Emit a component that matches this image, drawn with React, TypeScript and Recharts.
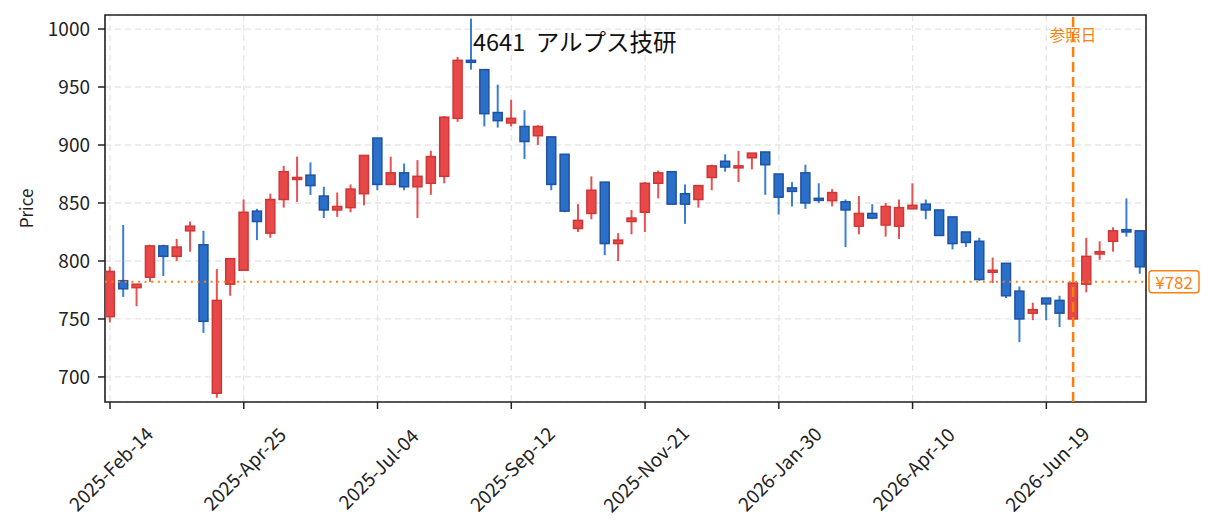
import { ComposedChart, Bar, XAxis, YAxis, CartesianGrid, ReferenceLine, ReferenceArea } from "recharts";

// weekly candles, 2025-02-14 .. 2026-08-07
const opens = [
    752, 783, 777, 786, 813, 804, 826, 814, 686, 780, 792, 843, 824, 853, 871, 874, 856, 844, 846, 858,
    906, 866, 876, 864, 867, 873, 923, 973, 965, 928, 919, 916, 908, 907, 892, 828, 841, 868, 815, 834,
    842, 867, 877, 858, 853, 872, 886, 881, 889, 894, 875, 863, 876, 854, 852, 851, 830, 841, 831, 830,
    845, 849, 844, 838, 825, 817, 791, 798, 774, 755, 768, 766, 750, 780, 806, 817, 827, 826,
];
const highs = [
    795, 831, 780, 814, 814, 819, 834, 826, 793, 802, 853, 845, 858, 882, 890, 885, 864, 859, 866, 891,
    906, 890, 884, 887, 895, 925, 976, 1009, 965, 952, 939, 930, 917, 907, 892, 849, 873, 868, 824, 844,
    868, 878, 877, 866, 865, 883, 892, 895, 893, 894, 875, 868, 883, 867, 862, 853, 856, 849, 850, 853,
    867, 853, 844, 838, 825, 820, 803, 798, 778, 764, 768, 770, 781, 820, 817, 829, 854, 826,
];
const lows = [
    747, 769, 761, 782, 787, 800, 808, 738, 682, 770, 792, 818, 820, 846, 851, 857, 837, 838, 842, 848,
    861, 866, 861, 837, 857, 867, 920, 965, 916, 915, 916, 888, 900, 861, 842, 825, 836, 805, 800, 823,
    825, 854, 849, 832, 846, 861, 877, 868, 879, 857, 840, 847, 845, 850, 847, 812, 823, 836, 821, 819,
    845, 836, 822, 810, 812, 783, 781, 768, 730, 749, 749, 743, 750, 773, 801, 808, 821, 789,
];
const closes = [
    791, 776, 780, 813, 804, 812, 830, 748, 766, 802, 842, 834, 853, 877, 872, 865, 844, 847, 862, 891,
    866, 876, 864, 873, 890, 924, 973, 972, 927, 921, 923, 903, 916, 866, 843, 835, 861, 815, 818, 837,
    867, 876, 849, 849, 865, 882, 881, 882, 893, 883, 855, 860, 850, 853, 859, 844, 841, 837, 847, 846,
    848, 844, 822, 815, 816, 784, 792, 770, 750, 758, 763, 755, 781, 804, 808, 826, 825, 795,
];

const tickIdx = [0, 10, 20, 30, 40, 50, 60, 70];
const tickLabels = ["2025-Feb-14", "2025-Apr-25", "2025-Jul-04", "2025-Sep-12", "2025-Nov-21", "2026-Jan-30", "2026-Apr-10", "2026-Jun-19"];
const priceTicks = [700, 750, 800, 850, 900, 950, 1000];
const refPrice = 782;
const refIndex = 72;

const data = opens.map((o, i) => ({
    i,
    open: o,
    high: highs[i],
    low: lows[i],
    close: closes[i],
    range: [lows[i], highs[i]],
}));

const FONT = '"Noto Sans CJK JP", "Noto Sans", sans-serif';
const ORANGE = "#ff7f0e";
const INK = "#222";

function Candle(props: any) {
    const { x, width, payload } = props;
    let { y, height } = props;
    if (height < 0) {
        y = y + height;
        height = -height;
    }
    const { open, close, high, low } = payload;
    const up = close >= open;
    const cx = x + width / 2;
    const ppu = height / (high - low || 1);
    const yOf = (v: number) => y + (high - v) * ppu;
    const top = yOf(Math.max(open, close));
    const bot = yOf(Math.min(open, close));
    const bw = 9;
    return (
        <g>
            <line x1={cx} x2={cx} y1={y} y2={y + height} stroke={up ? "#e55252" : "#3b7fd4"} strokeWidth={2} />
            <rect
                x={cx - bw / 2}
                y={top}
                width={bw}
                height={Math.max(bot - top, 2)}
                fill={up ? "#e84848" : "#2b70c8"}
                stroke={up ? "#cf3636" : "#1f52a3"}
                strokeWidth={1.5}
            />
        </g>
    );
}

function DateTick({ x, y, payload }: any) {
    const k = tickIdx.indexOf(payload.value);
    const label = k >= 0 ? tickLabels[k] : "";
    const cy = y + 57;
    return (
        <text
            x={x}
            y={cy}
            textAnchor="middle"
            dominantBaseline="central"
            transform={`rotate(-45 ${x} ${cy})`}
            fontSize={19}
            fill={INK}
        >
            {label}
        </text>
    );
}

export default function App() {
    return (
        <div style={{ position: "absolute", left: 0, top: 0, width: 1211, height: 532, background: "#fff", fontFamily: FONT }}>
            <ComposedChart width={1211} height={532} data={data} margin={{ top: 15, right: 65, bottom: 0, left: 0 }}>
                <CartesianGrid stroke="#e6e6e6" strokeDasharray="6 4" strokeWidth={1.3} />
                <XAxis
                    dataKey="i"
                    type="number"
                    domain={[-0.374, 77.45]}
                    ticks={tickIdx}
                    allowDataOverflow
                    height={130}
                    axisLine={false}
                    tickSize={7}
                    tickLine={{ stroke: INK, strokeWidth: 1.5 }}
                    tick={<DateTick />}
                    interval={0}
                />
                <YAxis
                    type="number"
                    domain={[678.4, 1012.1]}
                    ticks={priceTicks}
                    allowDataOverflow
                    width={105}
                    axisLine={false}
                    tickSize={7}
                    tickMargin={8}
                    tickLine={{ stroke: INK, strokeWidth: 1.5 }}
                    tick={{ fill: INK, fontSize: 19 }}
                    interval={0}
                    label={(p: any) => {
                        const vb = p.viewBox || { y: 15, height: 387 };
                        const cy = vb.y + vb.height / 2;
                        return (
                            <text x={25} y={cy} textAnchor="middle" dominantBaseline="central" transform={`rotate(-90 25 ${cy})`} fontSize={17} fill={INK}>
                                Price
                            </text>
                        );
                    }}
                />
                <Bar dataKey="range" barSize={9} shape={<Candle />} isAnimationActive={false} />
                <ReferenceLine
                    y={refPrice}
                    stroke={ORANGE}
                    strokeWidth={2}
                    strokeDasharray="2 4.6"
                    label={(p: any) => {
                        const vb = p.viewBox;
                        const bx = vb.x + vb.width + 3;
                        return (
                            <g>
                                <rect x={bx} y={vb.y - 11} width={50} height={22} rx={3} fill="#fff" stroke={ORANGE} strokeWidth={1.5} />
                                <text x={bx + 25} y={vb.y} textAnchor="middle" dominantBaseline="central" fontSize={17} fill={ORANGE}>
                                    ¥{refPrice}
                                </text>
                            </g>
                        );
                    }}
                />
                <ReferenceLine
                    x={refIndex}
                    stroke={ORANGE}
                    strokeWidth={2.5}
                    strokeDasharray="10 5"
                    label={(p: any) => {
                        const vb = p.viewBox;
                        return (
                            <text x={vb.x} y={vb.y + 26} textAnchor="middle" fontSize={15.5} fill={ORANGE}>
                                参照日
                            </text>
                        );
                    }}
                />
                <ReferenceArea x1={-0.374} x2={77.45} y1={678.4} y2={1012.1} fill="none" stroke={INK} strokeWidth={1.6} ifOverflow="visible" />
            </ComposedChart>
            <svg width={1211} height={532} style={{ position: "absolute", left: 0, top: 0, pointerEvents: "none" }}>
                <text x={473} y={51} fontSize={23.5} fill="#111" fontFamily={FONT}>
                    4641{"\u00a0\u00a0"}アルプス技研
                </text>
            </svg>
        </div>
    );
}
